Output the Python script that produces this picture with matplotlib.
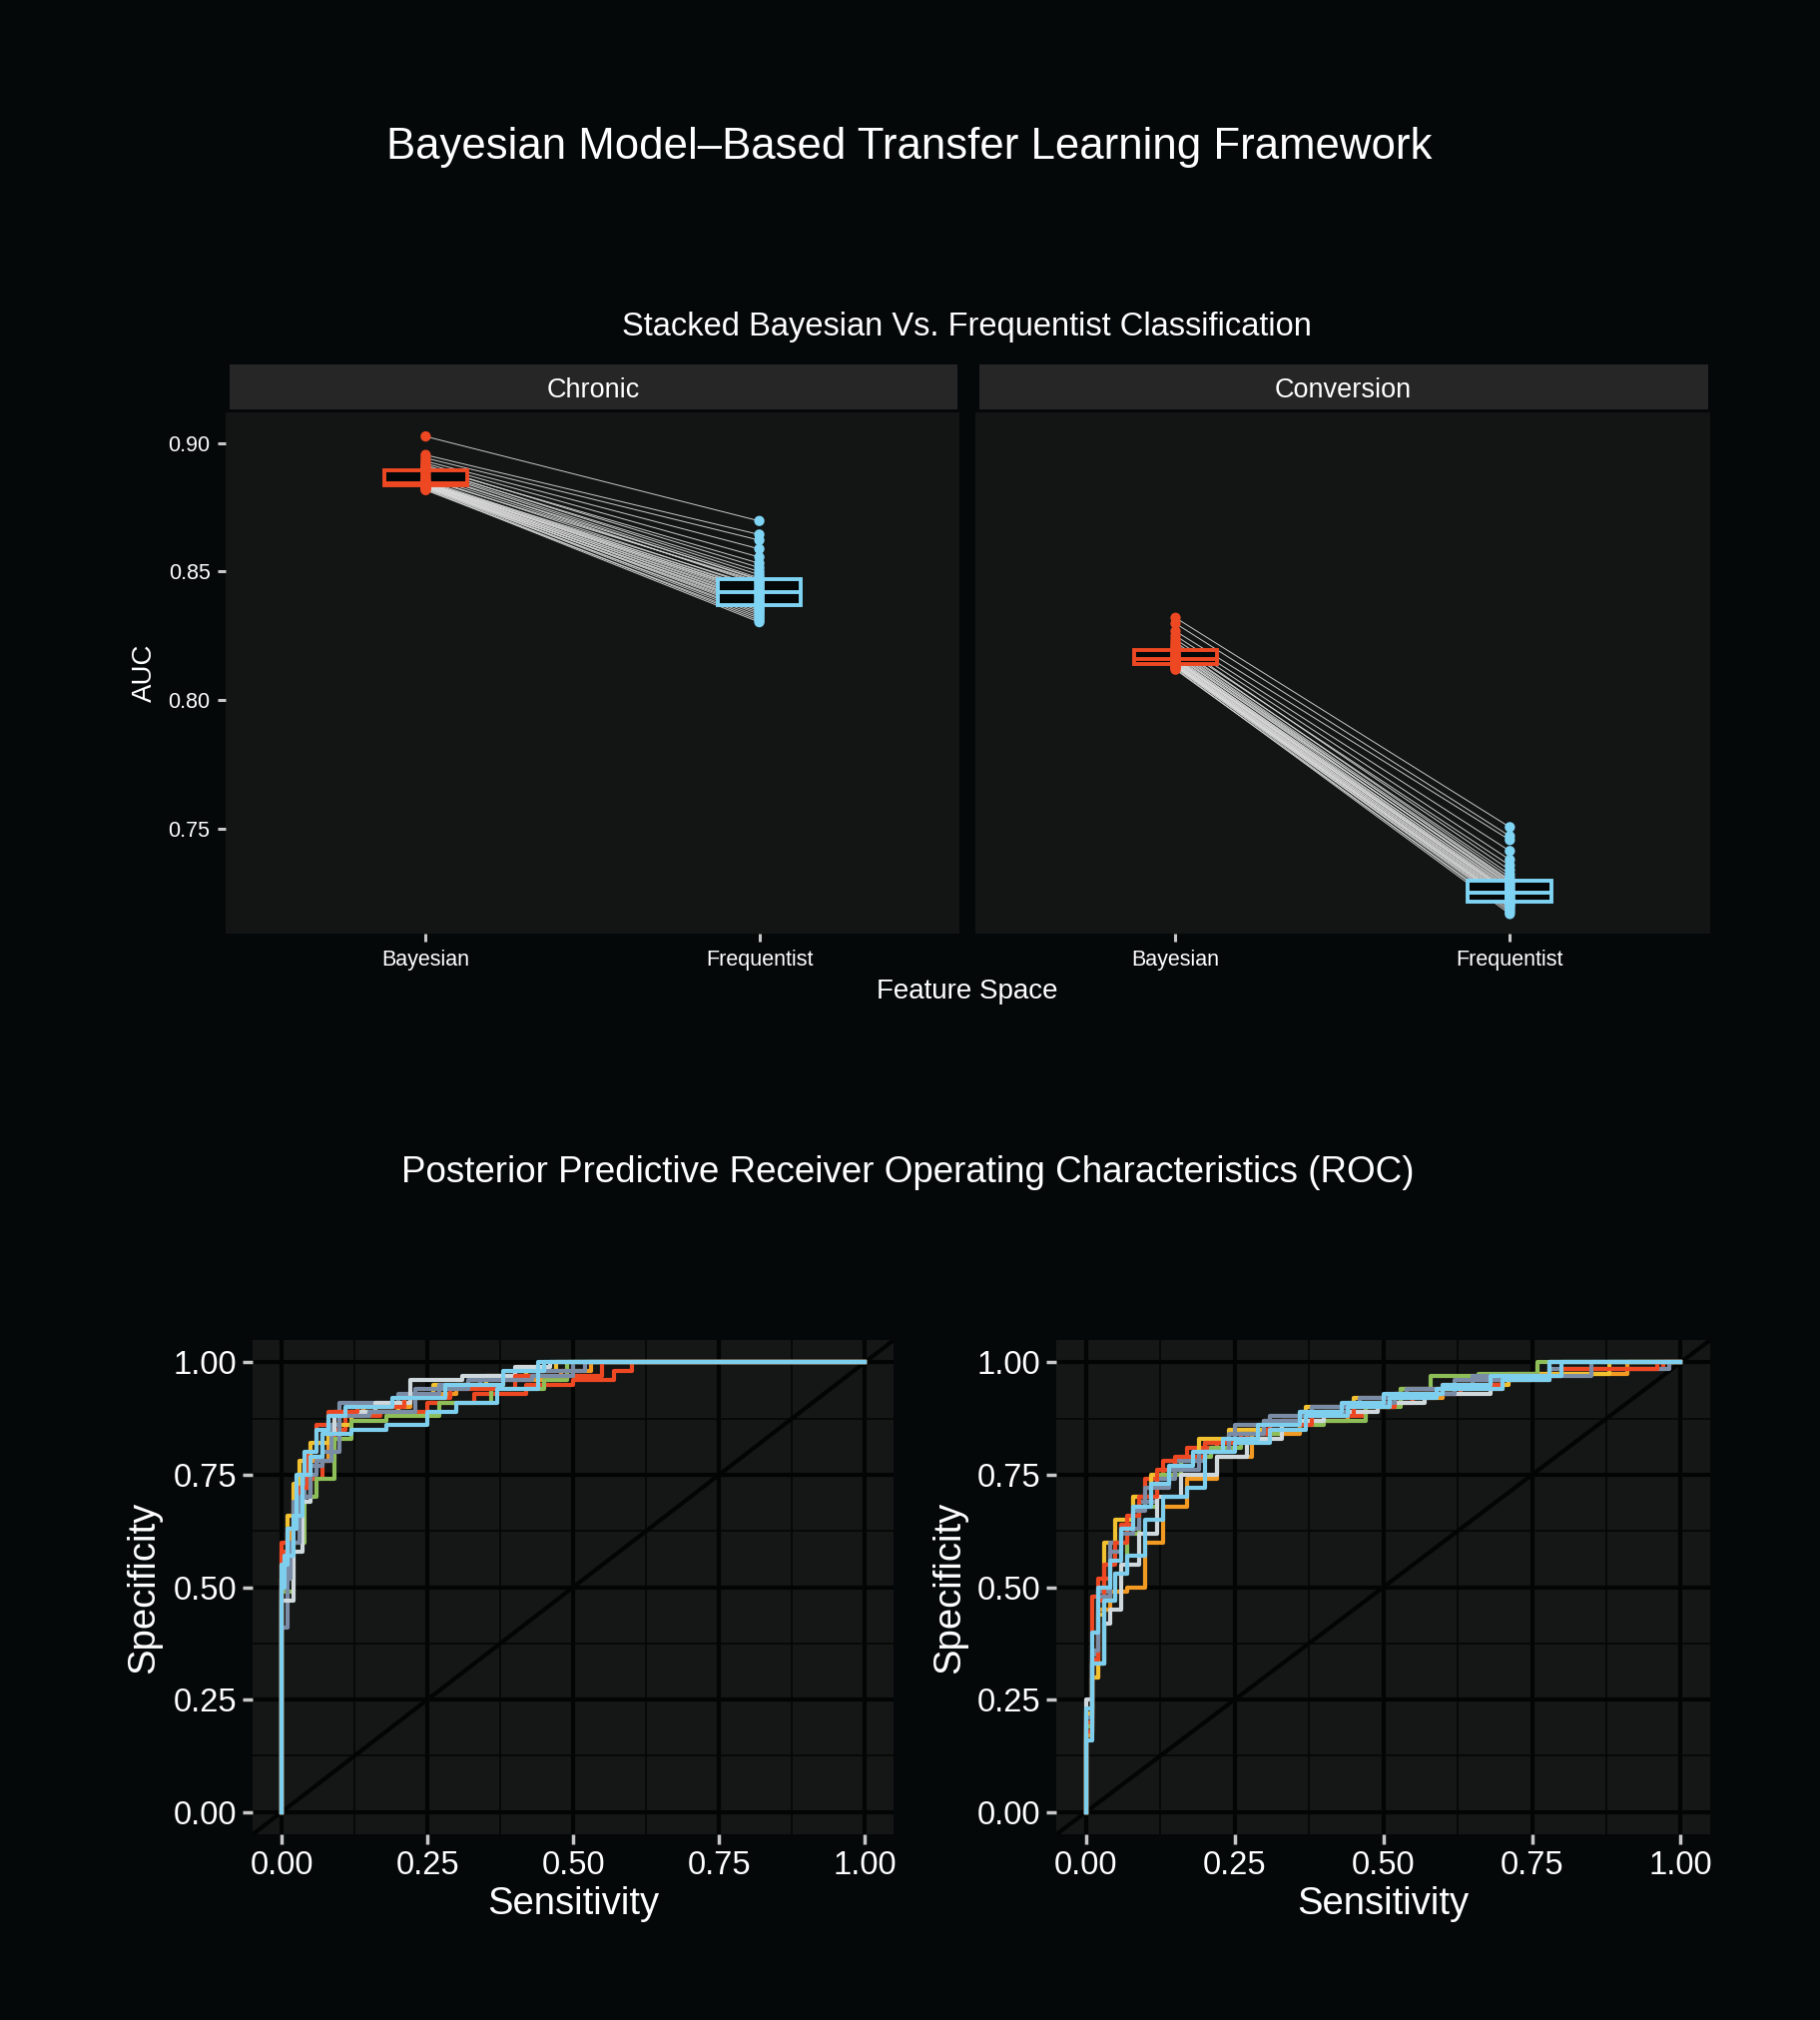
import numpy as np
import matplotlib.pyplot as plt
from matplotlib.patches import Rectangle
from matplotlib.ticker import MultipleLocator

plt.rcParams['font.family'] = ['Liberation Sans', 'DejaVu Sans']

# ---- AUC per resample (paired: element i of bayes goes with element i of freq) ----
groups = ['Bayesian', 'Frequentist']
facets = ['Chronic', 'Conversion']

bayes_chronic = [0.8817, 0.8820, 0.8823, 0.8825, 0.8827, 0.8829, 0.8830, 0.8831, 0.8832, 0.8833,
                 0.8835, 0.8836, 0.8837, 0.8838, 0.8840, 0.8841, 0.8842, 0.8843, 0.8844, 0.8845,
                 0.8846, 0.8848, 0.8851, 0.8855, 0.8860, 0.8866, 0.8872, 0.8879, 0.8886, 0.8893,
                 0.8898, 0.8902, 0.8905, 0.8909, 0.8914, 0.8921, 0.8930, 0.8942, 0.8954, 0.9026]
freq_chronic = [0.8318, 0.8303, 0.8340, 0.8310, 0.8359, 0.8325, 0.8374, 0.8333, 0.8353, 0.8347,
                0.8364, 0.8384, 0.8369, 0.8396, 0.8379, 0.8413, 0.8390, 0.8420, 0.8402, 0.8431,
                0.8408, 0.8443, 0.8417, 0.8425, 0.8461, 0.8437, 0.8456, 0.8470, 0.8450, 0.8466,
                0.8475, 0.8500, 0.8487, 0.8532, 0.8515, 0.8556, 0.8588, 0.8622, 0.8644, 0.8697]

bayes_conv = [0.8118, 0.8122, 0.8126, 0.8129, 0.8131, 0.8133, 0.8134, 0.8135, 0.8136, 0.8137,
              0.8139, 0.8141, 0.8143, 0.8145, 0.8147, 0.8150, 0.8152, 0.8154, 0.8156, 0.8157,
              0.8159, 0.8162, 0.8165, 0.8169, 0.8173, 0.8177, 0.8181, 0.8186, 0.8190, 0.8195,
              0.8199, 0.8204, 0.8210, 0.8217, 0.8225, 0.8236, 0.8250, 0.8268, 0.8298, 0.8320]
freq_conv = [0.7182, 0.7167, 0.7200, 0.7175, 0.7211, 0.7189, 0.7220, 0.7195, 0.7208, 0.7204,
             0.7214, 0.7228, 0.7217, 0.7236, 0.7224, 0.7247, 0.7232, 0.7252, 0.7240, 0.7261,
             0.7244, 0.7271, 0.7250, 0.7256, 0.7286, 0.7266, 0.7281, 0.7296, 0.7276, 0.7291,
             0.7300, 0.7322, 0.7310, 0.7356, 0.7338, 0.7378, 0.7412, 0.7455, 0.7470, 0.7505]

# ---- ROC step curves (fpr / tpr breakpoints), one per posterior draw ----
roc_colors = ['#EE4823', '#F29A22', '#F2C12F', '#8DBE58', '#7A8CA6', '#CFD9DD',
              '#EE4823', '#7A8CA6', '#7ECFEE', '#7ECFEE']

chronic_fpr = [
    [0, 0, 0.01, 0.02, 0.035, 0.05, 0.07, 0.09, 0.11, 0.17, 0.25, 0.33, 0.42, 0.50, 0.57, 0.60, 1.0],
    [0, 0, 0.015, 0.03, 0.05, 0.08, 0.10, 0.14, 0.22, 0.30, 0.38, 0.48, 0.53, 1.0],
    [0, 0, 0.01, 0.02, 0.03, 0.05, 0.08, 0.12, 0.20, 0.26, 0.35, 0.42, 0.47, 1.0],
    [0, 0, 0.02, 0.04, 0.06, 0.09, 0.12, 0.18, 0.27, 0.36, 0.45, 0.49, 1.0],
    [0, 0, 0.01, 0.02, 0.04, 0.06, 0.085, 0.10, 0.20, 0.27, 0.34, 0.44, 0.52, 1.0],
    [0, 0, 0.02, 0.035, 0.05, 0.07, 0.09, 0.16, 0.22, 0.31, 0.40, 0.46, 1.0],
    [0, 0, 0.02, 0.03, 0.045, 0.06, 0.08, 0.13, 0.21, 0.29, 0.40, 0.55, 1.0],
    [0, 0, 0.015, 0.03, 0.05, 0.07, 0.10, 0.15, 0.23, 0.32, 0.43, 0.50, 1.0],
    [0, 0, 0.01, 0.025, 0.04, 0.06, 0.08, 0.11, 0.19, 0.28, 0.38, 0.45, 1.0],
    [0, 0, 0.005, 0.02, 0.035, 0.05, 0.07, 0.12, 0.18, 0.25, 0.30, 0.37, 0.44, 1.0],
]
chronic_tpr = [
    [0, 0.58, 0.62, 0.68, 0.72, 0.74, 0.78, 0.85, 0.88, 0.89, 0.91, 0.93, 0.95, 0.96, 0.98, 1.0, 1.0],
    [0, 0.52, 0.63, 0.70, 0.78, 0.84, 0.88, 0.90, 0.93, 0.95, 0.96, 0.98, 1.0, 1.0],
    [0, 0.55, 0.66, 0.73, 0.78, 0.82, 0.86, 0.89, 0.92, 0.95, 0.97, 0.98, 1.0, 1.0],
    [0, 0.49, 0.60, 0.70, 0.74, 0.83, 0.87, 0.88, 0.91, 0.94, 0.96, 1.0, 1.0],
    [0, 0.41, 0.63, 0.69, 0.75, 0.78, 0.86, 0.91, 0.93, 0.95, 0.97, 0.98, 1.0, 1.0],
    [0, 0.47, 0.58, 0.69, 0.79, 0.84, 0.89, 0.91, 0.96, 0.97, 0.99, 1.0, 1.0],
    [0, 0.60, 0.65, 0.72, 0.80, 0.86, 0.89, 0.90, 0.92, 0.94, 0.97, 1.0, 1.0],
    [0, 0.52, 0.60, 0.70, 0.77, 0.80, 0.88, 0.89, 0.94, 0.96, 0.97, 1.0, 1.0],
    [0, 0.55, 0.63, 0.75, 0.80, 0.85, 0.88, 0.90, 0.92, 0.95, 0.98, 1.0, 1.0],
    [0, 0.50, 0.57, 0.66, 0.75, 0.79, 0.84, 0.85, 0.86, 0.89, 0.91, 0.94, 1.0, 1.0],
]

conv_fpr = [
    [0, 0, 0.01, 0.02, 0.04, 0.06, 0.08, 0.10, 0.13, 0.17, 0.22, 0.27, 0.33, 0.40, 0.47, 0.55, 0.63, 0.70, 0.80, 0.97, 1.0],
    [0, 0, 0.01, 0.02, 0.04, 0.07, 0.10, 0.13, 0.17, 0.22, 0.28, 0.36, 0.44, 0.52, 0.60, 0.70, 0.75, 0.91, 1.0],
    [0, 0, 0.01, 0.02, 0.03, 0.05, 0.08, 0.11, 0.15, 0.19, 0.24, 0.30, 0.37, 0.45, 0.53, 0.62, 0.71, 0.88, 1.0],
    [0, 0, 0.01, 0.03, 0.05, 0.07, 0.09, 0.12, 0.16, 0.21, 0.26, 0.33, 0.40, 0.47, 0.53, 0.58, 0.66, 0.76, 1.0],
    [0, 0, 0.01, 0.02, 0.04, 0.06, 0.09, 0.12, 0.15, 0.20, 0.25, 0.31, 0.38, 0.46, 0.54, 0.65, 0.78, 0.98, 1.0],
    [0, 0, 0.01, 0.03, 0.04, 0.06, 0.09, 0.12, 0.16, 0.22, 0.27, 0.33, 0.40, 0.49, 0.57, 0.68, 0.78, 1.0],
    [0, 0, 0.01, 0.02, 0.03, 0.05, 0.07, 0.09, 0.12, 0.15, 0.20, 0.26, 0.31, 0.38, 0.45, 0.52, 0.60, 0.70, 0.80, 0.96, 1.0],
    [0, 0, 0.01, 0.02, 0.04, 0.06, 0.08, 0.10, 0.14, 0.19, 0.24, 0.30, 0.36, 0.44, 0.52, 0.62, 0.72, 0.85, 1.0],
    [0, 0, 0.01, 0.02, 0.04, 0.06, 0.08, 0.11, 0.14, 0.18, 0.23, 0.29, 0.36, 0.43, 0.50, 0.60, 0.68, 0.80, 1.0],
    [0, 0, 0.01, 0.03, 0.05, 0.07, 0.10, 0.13, 0.17, 0.20, 0.25, 0.31, 0.37, 0.44, 0.51, 0.59, 0.70, 0.78, 1.0],
]
conv_tpr = [
    [0, 0.20, 0.48, 0.52, 0.58, 0.64, 0.70, 0.74, 0.78, 0.81, 0.82, 0.85, 0.87, 0.88, 0.91, 0.93, 0.95, 0.97, 0.985, 1.0, 1.0],
    [0, 0.17, 0.30, 0.45, 0.49, 0.50, 0.60, 0.68, 0.74, 0.79, 0.84, 0.87, 0.90, 0.92, 0.94, 0.96, 0.975, 1.0, 1.0],
    [0, 0.22, 0.30, 0.44, 0.60, 0.65, 0.70, 0.75, 0.78, 0.83, 0.85, 0.87, 0.90, 0.92, 0.94, 0.95, 0.975, 1.0, 1.0],
    [0, 0.19, 0.33, 0.47, 0.53, 0.62, 0.68, 0.75, 0.79, 0.81, 0.84, 0.86, 0.87, 0.90, 0.94, 0.97, 0.975, 1.0, 1.0],
    [0, 0.18, 0.35, 0.49, 0.60, 0.63, 0.69, 0.74, 0.78, 0.82, 0.86, 0.88, 0.90, 0.92, 0.94, 0.97, 0.985, 1.0, 1.0],
    [0, 0.25, 0.33, 0.42, 0.45, 0.55, 0.62, 0.70, 0.75, 0.79, 0.83, 0.87, 0.89, 0.91, 0.93, 0.96, 1.0, 1.0],
    [0, 0.18, 0.34, 0.47, 0.55, 0.60, 0.66, 0.70, 0.76, 0.79, 0.82, 0.84, 0.86, 0.88, 0.90, 0.93, 0.95, 0.97, 0.985, 1.0, 1.0],
    [0, 0.21, 0.36, 0.48, 0.58, 0.62, 0.67, 0.72, 0.76, 0.80, 0.84, 0.87, 0.89, 0.91, 0.93, 0.96, 0.97, 1.0, 1.0],
    [0, 0.23, 0.40, 0.50, 0.56, 0.63, 0.68, 0.73, 0.77, 0.80, 0.83, 0.86, 0.89, 0.91, 0.93, 0.95, 0.97, 1.0, 1.0],
    [0, 0.16, 0.33, 0.47, 0.53, 0.57, 0.65, 0.70, 0.72, 0.80, 0.82, 0.85, 0.88, 0.90, 0.92, 0.94, 0.96, 1.0, 1.0],
]

auc_ticks = [0.75, 0.80, 0.85, 0.90]
roc_ticks = [0.0, 0.25, 0.5, 0.75, 1.0]

# ---- styling ----
BG = '#040809'
PANEL = '#131515'
ROC_PANEL = '#151616'
STRIP = '#262626'
TICK = '#c8c8c8'
RED = '#EE4823'
BLUE = '#7FD3F3'

fig = plt.figure(figsize=(18.23, 20.23), dpi=100, facecolor=BG)

fig.text(0.4996, 0.9272, 'Bayesian Model\u2013Based Transfer Learning Framework',
         color='white', fontsize=31.5, ha='center', va='center')
fig.text(0.5315, 0.8380, 'Stacked Bayesian Vs. Frequentist Classification',
         color='white', fontsize=23.5, ha='center', va='center')

# ---- top: paired boxplots ----
top_pos = [[0.1239, 0.5376, 0.4033, 0.2583], [0.5357, 0.5376, 0.4041, 0.2583]]
strip_x = [(0.1260, 0.5258), (0.5379, 0.9384)]
data_pairs = [(bayes_chronic, freq_chronic), (bayes_conv, freq_conv)]

for k, (b, f) in enumerate(data_pairs):
    ax = fig.add_axes(top_pos[k], facecolor=PANEL)
    b = np.array(b)
    f = np.array(f)
    # pairing lines
    for yb, yf in zip(b, f):
        ax.plot([1, 2], [yb, yf], color='#dcdcdc', lw=0.7, alpha=0.9, zorder=1)
    for pos, vals, col in [(1, b, RED), (2, f, BLUE)]:
        ax.boxplot(vals, positions=[pos], widths=0.25, patch_artist=True, showcaps=False,
                   showfliers=False,
                   boxprops=dict(facecolor=BG, edgecolor=col, linewidth=2.8),
                   medianprops=dict(color=col, linewidth=2.8),
                   whiskerprops=dict(color=col, linewidth=2.8),
                   zorder=2)
        ax.scatter(np.full(len(vals), pos), vals, s=55, color=col, edgecolors='none', zorder=3)
    ax.set_xlim(0.4, 2.6)
    ax.set_ylim(0.7089, 0.912)
    ax.set_xticks([1, 2])
    ax.set_xticklabels(groups)
    ax.set_yticks(auc_ticks)
    ax.set_yticklabels(['%.2f' % t for t in auc_ticks])
    for s in ax.spines.values():
        s.set_visible(False)
    ax.tick_params(colors=TICK, labelcolor='white', labelsize=15.5, length=6, width=2.2, pad=5)
    if k == 1:
        ax.tick_params(axis='y', left=False, labelleft=False)
    x0, x1 = strip_x[k]
    fig.patches.append(Rectangle((x0, 0.7972), x1 - x0, 0.0223, transform=fig.transFigure,
                                 facecolor=STRIP, edgecolor='none'))
    fig.text((x0 + x1) / 2, 0.8068, facets[k], color='white', fontsize=19.5,
             ha='center', va='center')

fig.text(0.5315, 0.5090, 'Feature Space', color='white', fontsize=20, ha='center', va='center')
fig.text(0.0793, 0.6671, 'AUC', color='white', fontsize=20, ha='center', va='center', rotation=90)

# ---- bottom: ROC curves ----
fig.text(0.499, 0.4192, 'Posterior Predictive Receiver Operating Characteristics (ROC)',
         color='white', fontsize=26.5, ha='center', va='center')

roc_pos = [[0.1387, 0.0918, 0.3525, 0.2449], [0.5803, 0.0918, 0.3595, 0.2449]]
roc_sets = [(chronic_fpr, chronic_tpr), (conv_fpr, conv_tpr)]
ylab_x = [0.0793, 0.5216]
xlab_x = [0.3149, 0.7601]

for k, (fprs, tprs) in enumerate(roc_sets):
    ax = fig.add_axes(roc_pos[k], facecolor=ROC_PANEL)
    ax.set_axisbelow(True)
    ax.xaxis.set_minor_locator(MultipleLocator(0.125))
    ax.yaxis.set_minor_locator(MultipleLocator(0.125))
    ax.grid(which='major', color='#030404', lw=3.0)
    ax.grid(which='minor', color='#050606', lw=1.2)
    ax.axline((0, 0), (1, 1), color='#030404', lw=3.0, zorder=1.5)
    for fx, ty, col in zip(fprs, tprs, roc_colors):
        ax.step(fx, ty, where='post', color=col, lw=3.0, zorder=2)
    ax.set_xlim(-0.05, 1.05)
    ax.set_ylim(-0.05, 1.05)
    ax.set_xticks(roc_ticks)
    ax.set_yticks(roc_ticks)
    ax.set_xticklabels(['%.2f' % t for t in roc_ticks])
    ax.set_yticklabels(['%.2f' % t for t in roc_ticks])
    for s in ax.spines.values():
        s.set_visible(False)
    ax.tick_params(which='major', colors=TICK, labelcolor='white', labelsize=23.5,
                   length=7, width=2.5, pad=4)
    ax.tick_params(which='minor', length=0)
    fig.text(ylab_x[k], 0.2143, 'Specificity', color='white', fontsize=27.5,
             ha='center', va='center', rotation=90)
    fig.text(xlab_x[k], 0.0572, 'Sensitivity', color='white', fontsize=27.5,
             ha='center', va='center')

fig.savefig('out.png', dpi=100, facecolor=BG)
